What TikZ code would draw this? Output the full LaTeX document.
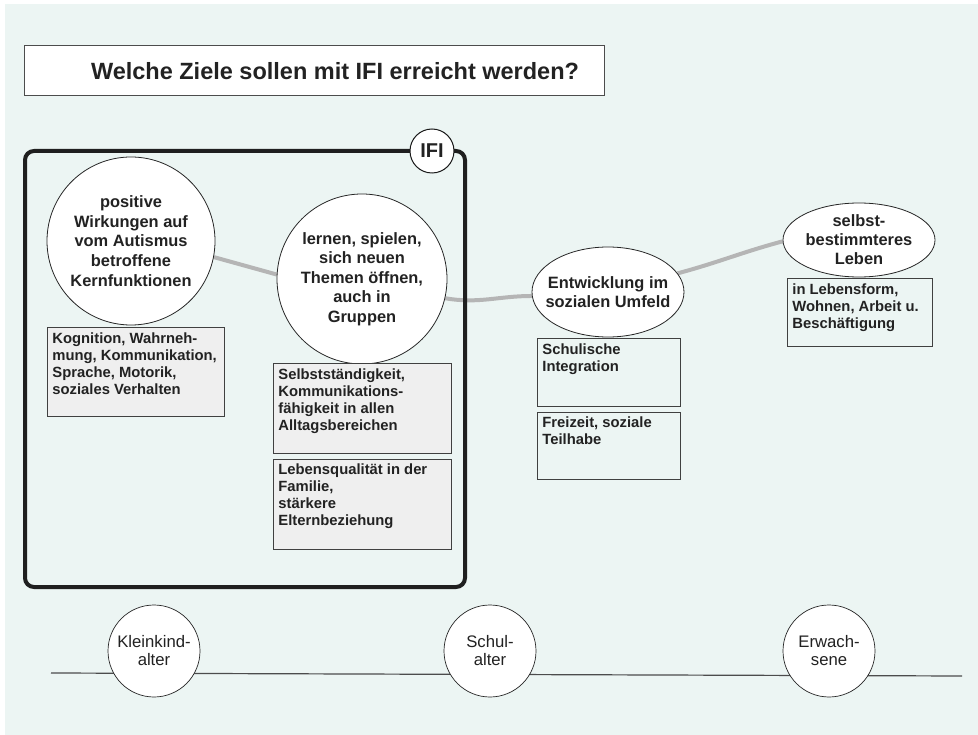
\documentclass[tikz,border=0pt]{standalone}
\usepackage{fontspec}
\setmainfont{Liberation Sans}
\usetikzlibrary{shapes.geometric, positioning}

\definecolor{bgmint}{HTML}{ECF5F3}
\definecolor{boxgray}{HTML}{EFEFEF}
\definecolor{pathgray}{HTML}{B5B5B5}
\definecolor{inkdark}{HTML}{222222}

% Text oben im Kasten, feste Hoehe
\newcommand{\boxtext}[3]{\parbox[t][#2][t]{#1}{\raggedright #3}}

\begin{document}
\begin{tikzpicture}[
    x=1pt, y=1pt,
    goal/.style={circle, draw=black!85, line width=0.8pt, fill=white, inner sep=0pt, align=center, text=inkdark, font=\bfseries\fontsize{16.4}{19.6}\selectfont},
    goaloval/.style={goal, ellipse},
    goaltext/.style={align=center, inner sep=0pt, text=inkdark, font=\bfseries\fontsize{16.4}{19}\selectfont},
    infobox/.style={draw=black!75, line width=0.8pt, inner sep=5pt, text=inkdark, font=\bfseries\fontsize{14.8}{17}\selectfont},
    agecircle/.style={circle, draw=black!85, line width=0.7pt, fill=white, minimum size=92pt, inner sep=0pt, align=center, text=inkdark, font=\fontsize{16.7}{18}\selectfont},
    pathline/.style={pathgray, line width=4pt}
]

\pgfdeclarelayer{back}
\pgfdeclarelayer{background}
\pgfsetlayers{back,background,main}

\useasboundingbox (0,0) rectangle (978,-735);
\begin{pgfonlayer}{back}
    \fill[bgmint] (5,-4) rectangle (978,-735);
\end{pgfonlayer}

% ==========================
% TITEL
% ==========================
\node[draw=black!70, line width=0.8pt, fill=white, minimum width=580pt, minimum height=50pt] (titlebox) at (314,-70) {};
\node[text=inkdark, font=\bfseries\fontsize{23.5}{28}\selectfont] (titletext) at (335,-71) {Welche Ziele sollen mit IFI erreicht werden?};

% ==========================
% IFI-RAHMEN
% ==========================
\node[draw=black!88, line width=4pt, rounded corners=9pt, minimum width=440pt, minimum height=436pt] (ifibox) at (245,-369) {};
\node[circle, draw=black!90, line width=1pt, fill=white, minimum size=44pt, inner sep=0pt, text=inkdark, font=\bfseries\fontsize{20}{20}\selectfont] (ifi) at (432,-151) {IFI};

% ==========================
% ZIELE
% ==========================
\node[goal, minimum size=168pt] (kern) at (131,-241) {positive\\Wirkungen auf\\vom Autismus\\betroffene\\Kernfunktionen};
\node[goal, minimum size=170pt] (lernen) at (362,-279) {lernen, spielen,\\sich neuen\\Themen öffnen,\\auch in\\Gruppen};
\node[goaloval, minimum width=152pt, minimum height=90pt, label={[goaltext]center:Entwicklung im\\sozialen Umfeld}] (umfeld) at (608,-292) {};
\node[goaloval, minimum width=152pt, minimum height=74pt, label={[goaltext]center:selbst-\\bestimmteres\\Leben}] (selbst) at (859,-240) {};

% Verbindungslinie
\begin{pgfonlayer}{background}
    \draw[pathline] (kern.-11) -- (lernen.177);
    \draw[pathline] (lernen.-13) to[out=-10, in=180] (umfeld.183);
    \draw[pathline] (umfeld.15) to[out=15, in=195] (selbst.181);
\end{pgfonlayer}

% ==========================
% KAESTEN
% ==========================
\node[infobox, fill=boxgray, anchor=north west] (box-kern) at (47,-327) {\boxtext{167pt}{79pt}{Kognition, Wahrneh-\\mung, Kommunikation,\\Sprache, Motorik,\\soziales Verhalten}};
\node[infobox, fill=boxgray, anchor=north west] (box-lernen-1) at (273,-363) {\boxtext{168pt}{80pt}{Selbstständigkeit,\\Kommunikations-\\fähigkeit in allen\\Alltagsbereichen}};
\node[infobox, fill=boxgray, below=5pt of box-lernen-1] (box-lernen-2) {\boxtext{168pt}{80pt}{Lebensqualität in der\\Familie,\\stärkere\\Elternbeziehung}};
\node[infobox, anchor=north west] (box-umfeld-1) at (537,-338) {\boxtext{133pt}{58pt}{Schulische\\Integration}};
\node[infobox, below=5pt of box-umfeld-1] (box-umfeld-2) {\boxtext{133pt}{57pt}{Freizeit, soziale\\Teilhabe}};
\node[infobox, anchor=north west] (box-selbst) at (787,-278) {\boxtext{135pt}{58pt}{in Lebensform,\\Wohnen, Arbeit u.\\Beschäftigung}};

% ==========================
% ZEITLEISTE
% ==========================
\coordinate (tl-start) at (51,-673);
\coordinate (tl-end) at (962,-676);
\draw[black!70, line width=1.2pt] (tl-start) -- (tl-end);

\node[agecircle] (age-1) at (154,-651) {Kleinkind-\\alter};
\node[agecircle] (age-2) at (490,-651) {Schul-\\alter};
\node[agecircle] (age-3) at (829,-651) {Erwach-\\sene};

\end{tikzpicture}
\end{document}
